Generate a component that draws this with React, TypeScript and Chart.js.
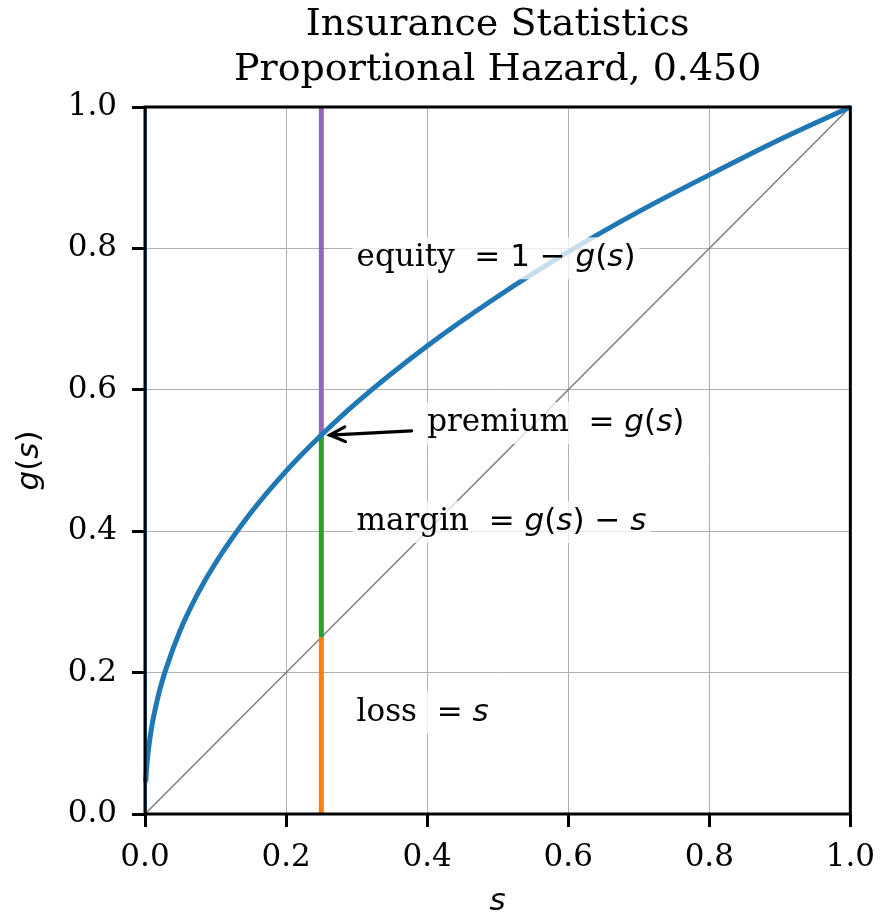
import React, { useEffect, useRef } from "react";
import { Chart, registerables } from "chart.js";

Chart.register(...registerables);

const titleLines = ["Insurance Statistics", "Proportional Hazard, 0.450"];
const tickValues = [0, 0.2, 0.4, 0.6, 0.8, 1.0];
const sCurve = [0.001, 0.002, 0.003, 0.005, 0.01, 0.02, 0.03, 0.05, 0.075, 0.1, 0.15, 0.2, 0.25, 0.3, 0.4, 0.5, 0.6, 0.7, 0.8, 0.9, 1.0];
const gCurve = [0.045, 0.061, 0.073, 0.092, 0.126, 0.172, 0.206, 0.26, 0.312, 0.355, 0.426, 0.485, 0.536, 0.582, 0.662, 0.732, 0.795, 0.852, 0.904, 0.954, 1.0];
const diagS = [0, 1];
const diagG = [0, 1];
const sPick = 0.25;
const lossTop = 0.25;
const premium = 0.536;
const edgeS = [0.002, 0.002];
const edgeG = [0, 1];
const arrowTail = { x: 0.378, y: 0.542 };
const arrowHead = { x: 0.262, y: 0.536 };

const SERIF = "'DejaVu Serif'";
const SANS = "'DejaVu Sans'";
const FS = 31;

type Part = { t: string; f: string };
const rm = (t: string): Part => ({ t, f: `${FS}px ${SERIF}` });
const ms = (t: string): Part => ({ t, f: `${FS}px ${SANS}` });
const mi = (t: string): Part => ({ t, f: `italic ${FS}px ${SANS}` });

const labels: { x: number; y: number; parts: Part[]; box: boolean }[] = [
  { x: 0.3, y: 0.786, parts: [rm("equity "), ms(" = 1 − "), mi("g"), ms("("), mi("s"), ms(")")], box: true },
  { x: 0.4, y: 0.553, parts: [rm("premium "), ms(" = "), mi("g"), ms("("), mi("s"), ms(")")], box: true },
  { x: 0.3, y: 0.413, parts: [rm("margin "), ms(" = "), mi("g"), ms("("), mi("s"), ms(") − "), mi("s")], box: true },
  { x: 0.3, y: 0.143, parts: [rm("loss "), ms(" = "), mi("s")], box: true },
];

const pts = (xs: number[], ys: number[]) => xs.map((x, i) => ({ x, y: ys[i] }));

const overlay = {
  id: "overlay",
  afterDatasetsDraw(chart: any) {
    const { ctx, chartArea: a, scales } = chart;
    const X = (v: number) => scales.x.getPixelForValue(v);
    const Y = (v: number) => scales.y.getPixelForValue(v);
    ctx.save();
    ctx.textBaseline = "middle";
    ctx.textAlign = "left";
    for (const lb of labels) {
      let w = 0;
      for (const p of lb.parts) { ctx.font = p.f; w += ctx.measureText(p.t).width; }
      const x0 = X(lb.x), y0 = Y(lb.y);
      if (lb.box) {
        ctx.fillStyle = "rgba(255,255,255,0.75)";
        ctx.fillRect(x0 - 4, y0 - 21, w + 8, 42);
      }
      let x = x0;
      ctx.fillStyle = "#000";
      for (const p of lb.parts) { ctx.font = p.f; ctx.fillText(p.t, x, y0); x += ctx.measureText(p.t).width; }
    }
    const tx = X(arrowTail.x), ty = Y(arrowTail.y), hx = X(arrowHead.x), hy = Y(arrowHead.y);
    const ang = Math.atan2(ty - hy, tx - hx);
    ctx.strokeStyle = "#000";
    ctx.lineWidth = 3.2;
    ctx.lineCap = "round";
    ctx.beginPath(); ctx.moveTo(tx, ty); ctx.lineTo(hx, hy); ctx.stroke();
    const L = 17, sp = 0.45;
    ctx.beginPath();
    ctx.moveTo(hx + L * Math.cos(ang + sp), hy + L * Math.sin(ang + sp));
    ctx.lineTo(hx, hy);
    ctx.lineTo(hx + L * Math.cos(ang - sp), hy + L * Math.sin(ang - sp));
    ctx.stroke();
    ctx.lineCap = "butt";
    ctx.lineWidth = 3;
    ctx.strokeRect(a.left, a.top, a.right - a.left, a.bottom - a.top);
    ctx.textAlign = "center";
    ctx.font = `38px ${SERIF}`;
    const cx = (a.left + a.right) / 2;
    ctx.fillText(titleLines[0], cx, 25);
    ctx.fillText(titleLines[1], cx, 70);
    const drawParts = (parts: Part[], x: number, y: number) => {
      let w = 0;
      for (const p of parts) { ctx.font = p.f; w += ctx.measureText(p.t).width; }
      let xx = x - w / 2;
      ctx.textAlign = "left";
      for (const p of parts) { ctx.font = p.f; ctx.fillText(p.t, xx, y); xx += ctx.measureText(p.t).width; }
    };
    drawParts([mi("s")], cx, 902);
    ctx.save();
    ctx.translate(30, (a.top + a.bottom) / 2);
    ctx.rotate(-Math.PI / 2);
    drawParts([mi("g"), ms("("), mi("s"), ms(")")], 0, 0);
    ctx.restore();
    ctx.restore();
  },
};

export default function App() {
  const ref = useRef<HTMLCanvasElement>(null);
  useEffect(() => {
    const tickFont = { family: SERIF, size: FS };
    const chart = new Chart(ref.current!, {
      type: "scatter",
      data: {
        datasets: [
          { data: pts(diagS, diagG), borderColor: "#808080", borderWidth: 1.6, showLine: true, pointRadius: 0, clip: false },
          { data: [{ x: sPick, y: 0 }, { x: sPick, y: lossTop }], borderColor: "#ff7f0e", borderWidth: 5, showLine: true, pointRadius: 0, clip: false },
          { data: [{ x: sPick, y: lossTop }, { x: sPick, y: premium }], borderColor: "#2ca02c", borderWidth: 5, showLine: true, pointRadius: 0, clip: false },
          { data: [{ x: sPick, y: premium }, { x: sPick, y: 1 }], borderColor: "#9467bd", borderWidth: 5, showLine: true, pointRadius: 0, clip: false },
          { data: pts(edgeS, edgeG), borderColor: "#1f77b4", borderWidth: 1.2, showLine: true, pointRadius: 0, clip: false },
          { data: pts(sCurve, gCurve), borderColor: "#1f77b4", borderWidth: 5, showLine: true, pointRadius: 0, cubicInterpolationMode: "monotone", clip: false },
        ].reverse() as any,
      },
      options: {
        animation: false,
        responsive: false,
        devicePixelRatio: 1,
        layout: { padding: { top: 107, right: 36, left: 0, bottom: 0 } },
        plugins: { legend: { display: false }, tooltip: { enabled: false }, title: { display: false } },
        scales: {
          x: {
            type: "linear", min: 0, max: 1,
            afterBuildTicks: (s: any) => { s.ticks = tickValues.map((v) => ({ value: v })); },
            afterFit: (s: any) => { s.height = 102; },
            grid: { color: "#b0b0b0", lineWidth: 1, tickColor: "#000", tickWidth: 3, tickLength: 13 },
            border: { display: false },
            ticks: { font: tickFont, color: "#000", padding: 12, maxRotation: 0, callback: (v: any) => Number(v).toFixed(1) },
          },
          y: {
            type: "linear", min: 0, max: 1,
            afterBuildTicks: (s: any) => { s.ticks = tickValues.map((v) => ({ value: v })); },
            afterFit: (s: any) => { s.width = 145; },
            grid: { color: "#b0b0b0", lineWidth: 1, tickColor: "#000", tickWidth: 3, tickLength: 13 },
            border: { display: false },
            ticks: { font: tickFont, color: "#000", padding: 15, callback: (v: any) => Number(v).toFixed(1) },
          },
        },
      } as any,
      plugins: [overlay],
    });
    return () => chart.destroy();
  }, []);
  return (
    <div style={{ position: "absolute", left: 0, top: 0, width: 887, height: 916, background: "#fff" }}>
      <canvas ref={ref} width={887} height={916} style={{ width: 887, height: 916 }} />
    </div>
  );
}
